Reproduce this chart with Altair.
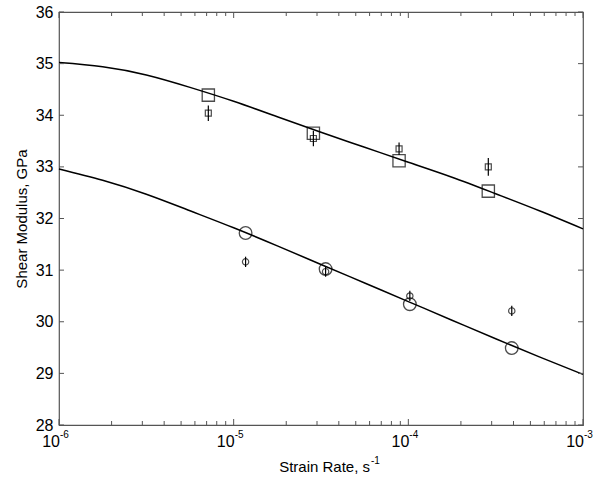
import altair as alt
import pandas as pd

# ---- data ----
curve_rate = [1e-6, 1.778e-6, 3.162e-6, 5.623e-6, 1e-5, 1.778e-5, 3.162e-5,
              5.623e-5, 1e-4, 1.778e-4, 3.162e-4, 5.623e-4, 1e-3]
upper_fit = [35.02, 34.94, 34.78, 34.54, 34.27, 33.97, 33.67, 33.38, 33.09,
             32.80, 32.48, 32.15, 31.80]
lower_fit = [32.96, 32.74, 32.47, 32.15, 31.82, 31.47, 31.11, 30.75, 30.39,
             30.03, 29.67, 29.32, 28.98]

sq_rate = [7.16e-6, 2.86e-5, 8.85e-5, 2.87e-4]
sq_large = [34.39, 33.65, 33.12, 32.53]
sq_small = [34.04, 33.55, 33.35, 33.00]
sq_err = [0.15, 0.15, 0.12, 0.17]

ci_rate = [1.17e-5, 3.36e-5, 1.02e-4, 3.91e-4]
ci_large = [31.72, 31.02, 30.34, 29.49]
ci_small = [31.16, 30.97, 30.50, 30.21]
ci_err = [0.10, 0.10, 0.10, 0.10]

y_ticks = [28, 29, 30, 31, 32, 33, 34, 35, 36]
x_major = [1e-6, 1e-5, 1e-4, 1e-3]
x_exp = ["-6", "-5", "-4", "-3"]
x_minor = [m * d for d in [1e-6, 1e-5, 1e-4] for m in [2, 3, 4, 5, 6, 7, 8, 9]]

W, H = 524, 413
FONT = "Liberation Sans"

xs = alt.Scale(type="log", domain=[1e-6, 1e-3], nice=False)
ys = alt.Scale(domain=[28, 36], nice=False, zero=False)
yaxis = alt.Axis(values=y_ticks, ticks=False, domain=False, grid=False,
                 labelFontSize=16, labelPadding=6, labelColor="black",
                 title="Shear Modulus, GPa", titleFontSize=15,
                 titleFontWeight="normal", titleColor="black", titlePadding=6)


def X(field="rate"):
    return alt.X(f"{field}:Q", scale=xs, axis=None)


def Y(field="g"):
    return alt.Y(f"{field}:Q", scale=ys, axis=yaxis)


curves = pd.DataFrame({
    "rate": curve_rate * 2,
    "g": upper_fit + lower_fit,
    "s": ["upper"] * len(curve_rate) + ["lower"] * len(curve_rate),
})
sq_df = pd.DataFrame({"rate": sq_rate, "big": sq_large, "g": sq_small,
                      "lo": [v - e for v, e in zip(sq_small, sq_err)],
                      "hi": [v + e for v, e in zip(sq_small, sq_err)]})
ci_df = pd.DataFrame({"rate": ci_rate, "big": ci_large, "g": ci_small,
                      "lo": [v - e for v, e in zip(ci_small, ci_err)],
                      "hi": [v + e for v, e in zip(ci_small, ci_err)]})

line = alt.Chart(curves).mark_line(color="black", strokeWidth=1.5,
                                   interpolate="natural").encode(
    x=X(), y=Y(), detail="s:N")

big_sq = alt.Chart(sq_df).mark_point(shape="square", size=150, color="black",
                                     strokeWidth=1.3, filled=False).encode(
    x=X(), y=Y("big"))
small_sq = alt.Chart(sq_df).mark_point(shape="square", size=36, color="black",
                                       strokeWidth=1.2, filled=False).encode(
    x=X(), y=Y())
sq_bar = alt.Chart(sq_df).mark_rule(color="black", strokeWidth=1.2).encode(
    x=X(), y=Y("lo"), y2="hi:Q")

big_ci = alt.Chart(ci_df).mark_point(shape="circle", size=160, color="black",
                                     strokeWidth=1.3, filled=False).encode(
    x=X(), y=Y("big"))
small_ci = alt.Chart(ci_df).mark_point(shape="circle", size=40, color="black",
                                       strokeWidth=1.2, filled=False).encode(
    x=X(), y=Y())
ci_bar = alt.Chart(ci_df).mark_rule(color="black", strokeWidth=1.2).encode(
    x=X(), y=Y("lo"), y2="hi:Q")

# inward ticks of the box
yt_df = pd.DataFrame({"g": y_ticks})
xmaj_df = pd.DataFrame({"rate": x_major, "e": x_exp})
xmin_df = pd.DataFrame({"rate": x_minor})
tick_col = "#555555"
yt_left = alt.Chart(yt_df).mark_rule(color=tick_col).encode(
    y=Y(), x=alt.value(0), x2=alt.value(5))
yt_right = alt.Chart(yt_df).mark_rule(color=tick_col).encode(
    y=Y(), x=alt.value(W - 5), x2=alt.value(W))
xt_bot_maj = alt.Chart(xmaj_df).mark_rule(color=tick_col).encode(
    x=X(), y=alt.value(H - 6), y2=alt.value(H))
xt_top_maj = alt.Chart(xmaj_df).mark_rule(color=tick_col).encode(
    x=X(), y=alt.value(0), y2=alt.value(6))
xt_bot_min = alt.Chart(xmin_df).mark_rule(color=tick_col).encode(
    x=X(), y=alt.value(H - 4), y2=alt.value(H))
xt_top_min = alt.Chart(xmin_df).mark_rule(color=tick_col).encode(
    x=X(), y=alt.value(0), y2=alt.value(4))

# x tick labels 10^n
x_base = alt.Chart(xmaj_df).mark_text(fontSize=16, align="right",
                                      baseline="alphabetic", dx=1,
                                      color="black").encode(
    x=X(), y=alt.value(H + 22), text=alt.value("10"))
x_sup = alt.Chart(xmaj_df).mark_text(fontSize=10, align="left",
                                     baseline="alphabetic", dx=1,
                                     color="black").encode(
    x=X(), y=alt.value(H + 13), text="e:N")

# x axis title with superscript
title_df = pd.DataFrame({"t": ["Strain Rate, s"], "sup": ["-1"]})
x_title = alt.Chart(title_df).mark_text(fontSize=15, align="right",
                                        baseline="alphabetic",
                                        color="black").encode(
    x=alt.value(311), y=alt.value(H + 47), text="t:N")
x_title_sup = alt.Chart(title_df).mark_text(fontSize=10, align="left",
                                            baseline="alphabetic",
                                            color="black").encode(
    x=alt.value(312), y=alt.value(H + 39), text="sup:N")

chart = alt.layer(
    line, big_sq, sq_bar, small_sq, big_ci, ci_bar, small_ci,
    yt_left, yt_right, xt_bot_maj, xt_top_maj, xt_bot_min, xt_top_min,
    x_base, x_sup, x_title, x_title_sup,
).properties(
    width=W, height=H,
    autosize=alt.AutoSizeParams(type="none"),
    padding={"left": 59, "top": 12, "right": 30, "bottom": 56},
    background="white",
).configure(font=FONT).configure_view(stroke="#555555", strokeWidth=1.2)

chart.save("out.html", embed_options={"renderer": "svg", "actions": False})
